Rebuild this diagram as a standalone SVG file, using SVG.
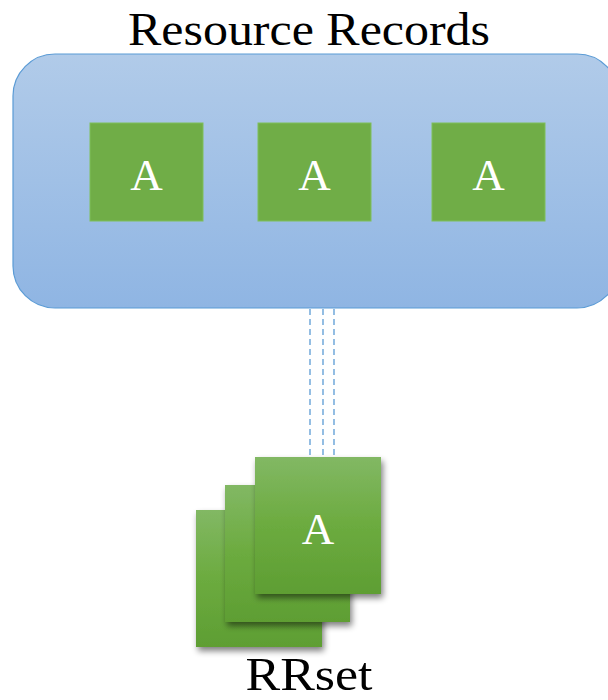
<svg xmlns="http://www.w3.org/2000/svg" width="608" height="700" viewBox="0 0 608 700">
<defs>
<linearGradient id="blueG" x1="0" y1="0" x2="0" y2="1">
<stop offset="0" stop-color="#b1cbe9"/>
<stop offset="1" stop-color="#8fb5e3"/>
</linearGradient>
<linearGradient id="greenG" x1="0" y1="0" x2="0" y2="1">
<stop offset="0" stop-color="#82b864"/>
<stop offset="0.5" stop-color="#6cab3f"/>
<stop offset="1" stop-color="#5e9e33"/>
</linearGradient>
<filter id="shadow" x="-20%" y="-20%" width="150%" height="150%">
<feGaussianBlur in="SourceAlpha" stdDeviation="3"/>
<feOffset dx="2" dy="4" result="b"/>
<feComponentTransfer><feFuncA type="linear" slope="0.5"/></feComponentTransfer>
<feMerge><feMergeNode/><feMergeNode in="SourceGraphic"/></feMerge>
</filter>
</defs>
<style>
.lbl{font-family:"Liberation Serif","DejaVu Serif",serif;fill:#000;text-anchor:middle}
.a{font-family:"Liberation Serif","DejaVu Serif",serif;fill:#fff;text-anchor:middle;font-size:45px}
.rec{fill:#70ad47;stroke:#7fbf5a;stroke-width:1}
.dash{stroke:#5b9bd5;stroke-width:1.3;stroke-dasharray:6,4;fill:none}
.stk{fill:url(#greenG);filter:url(#shadow)}
</style>
<text class="lbl" x="309" y="45" font-size="46" textLength="362" lengthAdjust="spacingAndGlyphs">Resource Records</text>
<g id="container">
<rect x="13" y="54" width="606" height="254" rx="42" ry="42" fill="url(#blueG)" stroke="#5b9bd5" stroke-width="1.2"/>
</g>
<g id="recA1"><rect class="rec" x="90" y="123" width="113" height="98"/><text class="a" x="146.5" y="190">A</text></g>
<g id="recA2"><rect class="rec" x="258" y="123" width="113" height="98"/><text class="a" x="314.5" y="190">A</text></g>
<g id="recA3"><rect class="rec" x="432" y="123" width="113" height="98"/><text class="a" x="488.5" y="190">A</text></g>
<g id="connectors">
<line class="dash" x1="310" y1="309" x2="310" y2="457"/>
<line class="dash" x1="323" y1="309" x2="323" y2="457"/>
<line class="dash" x1="334" y1="309" x2="334" y2="457"/>
</g>
<g id="rrset">
<rect class="stk" x="196" y="510" width="126" height="137"/>
<rect class="stk" x="225" y="485" width="125" height="137"/>
<rect class="stk" x="255" y="457" width="126" height="137"/>
<text class="a" x="318" y="544">A</text>
</g>
<text class="lbl" x="309" y="690" font-size="46" textLength="127" lengthAdjust="spacingAndGlyphs">RRset</text>
</svg>
